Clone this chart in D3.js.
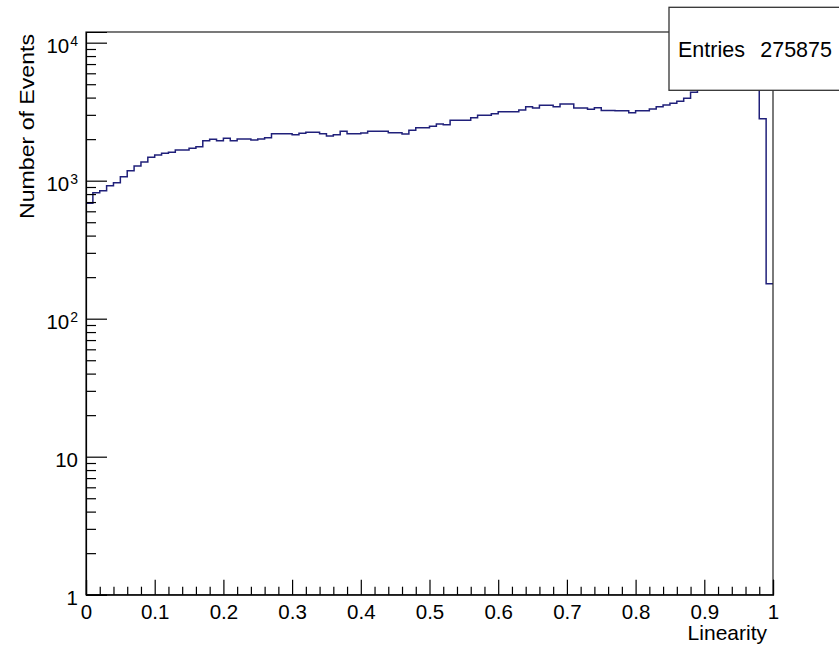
<!DOCTYPE html>
<html>
<head>
<meta charset="utf-8">
<script src="https://cdn.jsdelivr.net/npm/d3@7"></script>
<style>
  html, body { margin: 0; padding: 0; background: #fff; }
  svg { display: block; }
  text { font-family: "Liberation Sans", Arial, Helvetica, sans-serif; fill: #000; }
</style>
</head>
<body>
<svg id="chart" width="839" height="646"></svg>
<script>
// Histogram of event linearity: 100 bins between 0 and 1
const binRange = [0, 1];
const counts = [
  686, 818, 846, 920, 967, 1069, 1182, 1278, 1366, 1478,
  1536, 1580, 1606, 1669, 1669, 1717, 1764, 1950, 1995, 1950,
  2029, 1950, 2005, 2005, 1972, 2005, 2050, 2191, 2191, 2191,
  2154, 2205, 2242, 2242, 2191, 2108, 2154, 2280, 2191, 2191,
  2216, 2280, 2280, 2280, 2227, 2227, 2179, 2318, 2421, 2421,
  2479, 2576, 2546, 2739, 2739, 2739, 2861, 2978, 2978, 3058,
  3162, 3162, 3162, 3253, 3437, 3364, 3519, 3519, 3437, 3596,
  3596, 3364, 3364, 3292, 3381, 3230, 3230, 3216, 3216, 3111,
  3216, 3216, 3308, 3437, 3537, 3638, 3762, 3955, 4372, 4800,
  5200, 5600, 6000, 6400, 6800, 7100, 7300, 7000, 2810, 179
];
const entries = 275875;

// Axis ticks and labels
const xMajorTicks = [0, 0.1, 0.2, 0.3, 0.4, 0.5, 0.6, 0.7, 0.8, 0.9, 1];
const xMinorTicks = [0.02, 0.04, 0.06, 0.08, 0.12, 0.14, 0.16, 0.18, 0.22, 0.24, 0.26, 0.28,
  0.32, 0.34, 0.36, 0.38, 0.42, 0.44, 0.46, 0.48, 0.52, 0.54, 0.56, 0.58,
  0.62, 0.64, 0.66, 0.68, 0.72, 0.74, 0.76, 0.78, 0.82, 0.84, 0.86, 0.88,
  0.92, 0.94, 0.96, 0.98];
const yMajorTicks = [1, 10, 100, 1000, 10000];
const yMajorLabels = [["1", ""], ["10", ""], ["10", "2"], ["10", "3"], ["10", "4"]];
const yMinorMultipliers = [2, 3, 4, 5, 6, 7, 8, 9];
const yDomain = [1, 11950];

const xTitle = "Linearity";
const yTitle = "Number of Events";

// Frame geometry
const frame = { left: 86, right: 773, top: 32, bottom: 594.7 };

const svg = d3.select("#chart");

const x = d3.scaleLinear().domain(binRange).range([frame.left, frame.right]);
const y = d3.scaleLog().domain(yDomain).range([frame.bottom, frame.top]);

// Histogram outline as a step line
const nBins = counts.length;
const binWidth = (binRange[1] - binRange[0]) / nBins;
const stepPoints = counts.map((c, i) => [binRange[0] + i * binWidth, c]);
stepPoints.push([binRange[1], counts[nBins - 1]]);

const stepLine = d3.line()
  .x(d => x(d[0]))
  .y(d => y(d[1]))
  .curve(d3.curveStepAfter);

svg.append("path")
  .datum(stepPoints)
  .attr("d", stepLine)
  .attr("fill", "none")
  .attr("stroke", "#20207a")
  .attr("stroke-width", 1.5);

// Frame
svg.append("rect")
  .attr("x", frame.left)
  .attr("y", frame.top)
  .attr("width", frame.right - frame.left)
  .attr("height", frame.bottom - frame.top)
  .attr("fill", "none")
  .attr("stroke", "#222")
  .attr("stroke-width", 1.2);

// X axis: major and minor ticks pointing into the frame
const xAxisMajor = d3.axisBottom(x)
  .tickValues(xMajorTicks)
  .tickSize(-15)
  .tickPadding(9.5)
  .tickFormat(d => d3.format("")(+d.toFixed(1)));

const gx = svg.append("g")
  .attr("transform", `translate(0,${frame.bottom})`)
  .call(xAxisMajor);
gx.select(".domain").attr("stroke", "#000").attr("stroke-width", 1.2);
gx.selectAll(".tick line").attr("stroke", "#000").attr("stroke-width", 1.2);
gx.selectAll("text")
  .attr("font-size", 20.5)
  .style("font-family", "'Liberation Sans', Arial, Helvetica, sans-serif")
  .attr("fill", "#000");

const gxMinor = svg.append("g")
  .attr("transform", `translate(0,${frame.bottom})`)
  .call(d3.axisBottom(x).tickValues(xMinorTicks).tickSize(-8).tickFormat(""));
gxMinor.select(".domain").remove();
gxMinor.selectAll(".tick line").attr("stroke", "#000").attr("stroke-width", 1.2);

// Y axis (log): decades labelled as powers of ten
const yAxisMajor = d3.axisLeft(y)
  .tickValues(yMajorTicks)
  .tickSize(-21)
  .tickPadding(8)
  .tickFormat("");

const gy = svg.append("g")
  .attr("transform", `translate(${frame.left},0)`)
  .call(yAxisMajor);
gy.select(".domain").attr("stroke", "#000").attr("stroke-width", 1.2);
gy.selectAll(".tick line").attr("stroke", "#000").attr("stroke-width", 1.2);
gy.selectAll(".tick text")
  .attr("font-size", 20.5)
  .attr("dy", "0.5em")
  .style("font-family", "'Liberation Sans', Arial, Helvetica, sans-serif")
  .attr("fill", "#000")
  .each(function(d) {
    const [base, exp] = yMajorLabels[yMajorTicks.indexOf(d)];
    const t = d3.select(this);
    t.text(null);
    t.append("tspan").text(base);
    if (exp) {
      t.append("tspan")
        .attr("font-size", 14)
        .attr("dy", "-0.55em")
        .attr("dx", 1)
        .text(exp);
    }
  });

const yMinorTicks = [];
yMajorTicks.forEach(decade => {
  yMinorMultipliers.forEach(m => {
    const v = decade * m;
    if (v < yDomain[1]) yMinorTicks.push(v);
  });
});

const gyMinor = svg.append("g")
  .attr("transform", `translate(${frame.left},0)`)
  .call(d3.axisLeft(y).tickValues(yMinorTicks).tickSize(-10).tickFormat(""));
gyMinor.select(".domain").remove();
gyMinor.selectAll(".tick line").attr("stroke", "#000").attr("stroke-width", 1.2);

// Axis titles
svg.append("text")
  .attr("x", frame.right - 6)
  .attr("y", 640)
  .attr("text-anchor", "end")
  .attr("font-size", 21)
  .text(xTitle);

svg.append("text")
  .attr("transform", `translate(34,${frame.top + 2}) rotate(-90)`)
  .attr("text-anchor", "end")
  .attr("font-size", 19.5)
  .attr("textLength", 185)
  .attr("lengthAdjust", "spacingAndGlyphs")
  .text(yTitle);

// Statistics box
const statsBox = svg.append("g");
statsBox.append("rect")
  .attr("x", 669)
  .attr("y", 7.3)
  .attr("width", 200)
  .attr("height", 83)
  .attr("fill", "#fff")
  .attr("stroke", "#333")
  .attr("stroke-width", 1.3);
statsBox.append("text")
  .attr("x", 678)
  .attr("y", 57)
  .attr("font-size", 21.5)
  .text("Entries");
statsBox.append("text")
  .attr("x", 832)
  .attr("y", 57)
  .attr("text-anchor", "end")
  .attr("font-size", 21.5)
  .text(d3.format("d")(entries));
</script>
</body>
</html>
